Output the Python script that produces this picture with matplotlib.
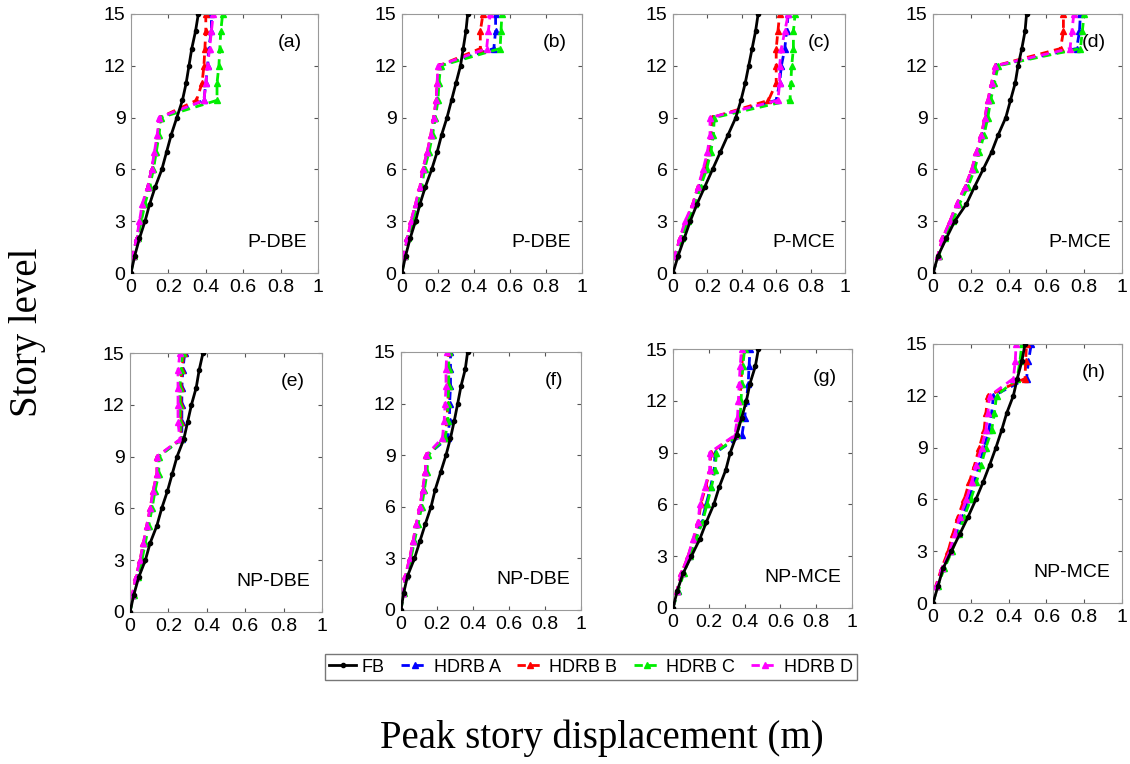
import numpy as np
import matplotlib.pyplot as plt

# Niveles de piso (0 a 15)
stories = np.arange(16)

# Desplazamientos pico (m) por panel: FB y HDRB A-D
panel_a = {
    "FB": [0, 0.02, 0.045, 0.075, 0.10, 0.13, 0.165, 0.19, 0.215, 0.245, 0.275, 0.295, 0.31, 0.325, 0.345, 0.36],
    "HDRB A": [0, 0.01, 0.03, 0.05, 0.065, 0.09, 0.11, 0.13, 0.145, 0.155, 0.39, 0.40, 0.41, 0.415, 0.43, 0.43],
    "HDRB B": [0, 0.01, 0.03, 0.05, 0.065, 0.09, 0.11, 0.13, 0.145, 0.155, 0.35, 0.38, 0.39, 0.395, 0.40, 0.40],
    "HDRB C": [0, 0.015, 0.035, 0.055, 0.075, 0.10, 0.12, 0.135, 0.15, 0.16, 0.46, 0.46, 0.47, 0.475, 0.48, 0.49],
    "HDRB D": [0, 0.01, 0.03, 0.045, 0.06, 0.09, 0.11, 0.125, 0.14, 0.15, 0.39, 0.40, 0.41, 0.42, 0.43, 0.44],
}
panel_b = {
    "FB": [0, 0.02, 0.045, 0.075, 0.10, 0.13, 0.165, 0.195, 0.22, 0.25, 0.275, 0.30, 0.325, 0.34, 0.355, 0.365],
    "HDRB A": [0, 0.01, 0.03, 0.055, 0.08, 0.105, 0.12, 0.145, 0.165, 0.18, 0.195, 0.20, 0.21, 0.51, 0.52, 0.52],
    "HDRB B": [0, 0.01, 0.03, 0.05, 0.075, 0.10, 0.115, 0.14, 0.16, 0.175, 0.19, 0.195, 0.205, 0.435, 0.435, 0.45],
    "HDRB C": [0, 0.015, 0.035, 0.06, 0.085, 0.11, 0.125, 0.15, 0.17, 0.185, 0.20, 0.205, 0.215, 0.545, 0.55, 0.555],
    "HDRB D": [0, 0.01, 0.03, 0.05, 0.075, 0.10, 0.115, 0.14, 0.16, 0.175, 0.19, 0.195, 0.20, 0.47, 0.48, 0.49],
}
panel_c = {
    "FB": [0, 0.03, 0.065, 0.10, 0.14, 0.185, 0.23, 0.275, 0.32, 0.365, 0.395, 0.42, 0.44, 0.46, 0.48, 0.495],
    "HDRB A": [0, 0.012, 0.045, 0.08, 0.12, 0.15, 0.185, 0.21, 0.225, 0.23, 0.60, 0.62, 0.63, 0.65, 0.66, 0.67],
    "HDRB B": [0, 0.01, 0.04, 0.075, 0.115, 0.145, 0.18, 0.205, 0.22, 0.225, 0.555, 0.60, 0.60, 0.60, 0.61, 0.62],
    "HDRB C": [0, 0.015, 0.05, 0.085, 0.13, 0.16, 0.195, 0.22, 0.235, 0.24, 0.68, 0.685, 0.69, 0.70, 0.70, 0.71],
    "HDRB D": [0, 0.01, 0.04, 0.07, 0.115, 0.145, 0.175, 0.20, 0.215, 0.215, 0.61, 0.62, 0.62, 0.63, 0.65, 0.67],
}
panel_d = {
    "FB": [0, 0.027, 0.07, 0.115, 0.177, 0.22, 0.265, 0.31, 0.345, 0.385, 0.41, 0.435, 0.45, 0.47, 0.487, 0.495],
    "HDRB A": [0, 0.027, 0.055, 0.095, 0.13, 0.175, 0.21, 0.235, 0.26, 0.28, 0.295, 0.315, 0.335, 0.76, 0.775, 0.78],
    "HDRB B": [0, 0.025, 0.05, 0.09, 0.125, 0.17, 0.205, 0.23, 0.255, 0.275, 0.29, 0.31, 0.33, 0.675, 0.69, 0.69],
    "HDRB C": [0, 0.03, 0.065, 0.105, 0.14, 0.185, 0.22, 0.245, 0.27, 0.29, 0.305, 0.325, 0.345, 0.78, 0.79, 0.80],
    "HDRB D": [0, 0.025, 0.05, 0.09, 0.125, 0.17, 0.205, 0.23, 0.255, 0.275, 0.29, 0.31, 0.33, 0.725, 0.735, 0.745],
}
panel_e = {
    "FB": [0, 0.02, 0.045, 0.08, 0.105, 0.14, 0.165, 0.195, 0.22, 0.245, 0.28, 0.30, 0.32, 0.345, 0.36, 0.38],
    "HDRB A": [0, 0.015, 0.035, 0.057, 0.075, 0.092, 0.11, 0.125, 0.145, 0.145, 0.27, 0.27, 0.27, 0.27, 0.275, 0.285],
    "HDRB B": [0, 0.012, 0.03, 0.052, 0.07, 0.087, 0.105, 0.12, 0.14, 0.14, 0.265, 0.265, 0.265, 0.265, 0.27, 0.28],
    "HDRB C": [0, 0.02, 0.04, 0.062, 0.08, 0.097, 0.115, 0.13, 0.15, 0.15, 0.265, 0.26, 0.26, 0.26, 0.265, 0.275],
    "HDRB D": [0, 0.012, 0.03, 0.052, 0.07, 0.087, 0.105, 0.12, 0.14, 0.14, 0.26, 0.25, 0.25, 0.25, 0.25, 0.26],
}
panel_f = {
    "FB": [0, 0.015, 0.037, 0.075, 0.105, 0.135, 0.167, 0.19, 0.22, 0.25, 0.275, 0.296, 0.315, 0.333, 0.357, 0.37],
    "HDRB A": [0, 0.012, 0.027, 0.052, 0.072, 0.09, 0.11, 0.125, 0.14, 0.145, 0.26, 0.27, 0.27, 0.275, 0.275, 0.275],
    "HDRB B": [0, 0.01, 0.024, 0.048, 0.067, 0.085, 0.105, 0.12, 0.135, 0.14, 0.245, 0.255, 0.26, 0.265, 0.265, 0.265],
    "HDRB C": [0, 0.015, 0.03, 0.055, 0.075, 0.095, 0.115, 0.13, 0.145, 0.15, 0.245, 0.26, 0.26, 0.265, 0.265, 0.265],
    "HDRB D": [0, 0.01, 0.024, 0.048, 0.067, 0.085, 0.105, 0.12, 0.135, 0.14, 0.23, 0.24, 0.245, 0.25, 0.25, 0.255],
}
panel_g = {
    "FB": [0, 0.024, 0.056, 0.103, 0.15, 0.187, 0.228, 0.258, 0.295, 0.32, 0.355, 0.383, 0.41, 0.43, 0.46, 0.477],
    "HDRB A": [0, 0.026, 0.055, 0.09, 0.125, 0.16, 0.185, 0.21, 0.23, 0.235, 0.385, 0.40, 0.41, 0.42, 0.425, 0.43],
    "HDRB B": [0, 0.022, 0.047, 0.084, 0.115, 0.142, 0.155, 0.182, 0.208, 0.21, 0.35, 0.37, 0.375, 0.38, 0.385, 0.39],
    "HDRB C": [0, 0.03, 0.06, 0.095, 0.13, 0.165, 0.19, 0.215, 0.235, 0.243, 0.36, 0.375, 0.38, 0.385, 0.39, 0.40],
    "HDRB D": [0, 0.022, 0.047, 0.084, 0.112, 0.14, 0.15, 0.178, 0.205, 0.205, 0.345, 0.36, 0.365, 0.37, 0.375, 0.383],
}
panel_h = {
    "FB": [0, 0.027, 0.053, 0.097, 0.142, 0.186, 0.227, 0.265, 0.30, 0.333, 0.363, 0.39, 0.425, 0.446, 0.47, 0.487],
    "HDRB A": [0, 0.02, 0.055, 0.093, 0.125, 0.155, 0.19, 0.218, 0.245, 0.27, 0.295, 0.31, 0.32, 0.495, 0.505, 0.52],
    "HDRB B": [0, 0.015, 0.045, 0.08, 0.105, 0.132, 0.165, 0.192, 0.22, 0.245, 0.27, 0.28, 0.29, 0.487, 0.49, 0.495],
    "HDRB C": [0, 0.025, 0.06, 0.10, 0.135, 0.165, 0.20, 0.23, 0.255, 0.28, 0.31, 0.325, 0.336, 0.445, 0.46, 0.47],
    "HDRB D": [0, 0.018, 0.05, 0.088, 0.115, 0.142, 0.177, 0.204, 0.23, 0.257, 0.28, 0.29, 0.30, 0.425, 0.435, 0.44],
}

panels = [panel_a, panel_b, panel_c, panel_d, panel_e, panel_f, panel_g, panel_h]
panel_tags = ["(a)", "(b)", "(c)", "(d)", "(e)", "(f)", "(g)", "(h)"]
cases = ["P-DBE", "P-DBE", "P-MCE", "P-MCE", "NP-DBE", "NP-DBE", "NP-MCE", "NP-MCE"]
series = ["FB", "HDRB A", "HDRB B", "HDRB C", "HDRB D"]
colors = {"FB": "black", "HDRB A": "#0000ff", "HDRB B": "#ff0000",
          "HDRB C": "#00ee00", "HDRB D": "#ff00ff"}

# Posición de cada eje en píxeles: izquierda, arriba, derecha, abajo
W, H = 1130, 764
boxes = [(131, 14, 318, 273), (402, 14, 582, 273), (673, 14, 845, 273), (933, 14, 1122, 273),
         (130, 353, 322, 612), (401, 352, 581, 610), (673, 349, 852, 608), (933, 344, 1122, 603)]

plt.rcParams['font.family'] = ['Liberation Sans', 'DejaVu Sans']
fig = plt.figure(figsize=(W / 100, H / 100), dpi=100)

handles = []
for data, tag, case, (l, t, r, b) in zip(panels, panel_tags, cases, boxes):
    ax = fig.add_axes([l / W, 1 - b / H, (r - l) / W, (b - t) / H])
    hs = []
    for name in series:
        if name == "FB":
            h, = ax.plot(data[name], stories, color='black', lw=2, marker='.', ms=6, label=name, zorder=3)
        else:
            h, = ax.plot(data[name], stories, color=colors[name], lw=2, ls=(0, (3, 2)),
                         marker='^', ms=5, label=name)
        hs.append(h)
    handles = hs
    ax.set_xlim(0, 1)
    ax.set_ylim(0, 15)
    ax.set_xticks([0, 0.2, 0.4, 0.6, 0.8, 1])
    ax.set_xticklabels(["0", "0.2", "0.4", "0.6", "0.8", "1"])
    ax.set_yticks([0, 3, 6, 9, 12, 15])
    ax.tick_params(direction='in', top=True, right=True, labelsize=14, length=3,
                   color='#555555', pad=4)
    for s in ax.spines.values():
        s.set_color('#999999')
    ax.text(0.85, 0.89, tag, transform=ax.transAxes, fontsize=14, ha='center', va='center')
    ax.text(0.94, 0.117, case, transform=ax.transAxes, fontsize=14, ha='right', va='center')

fig.legend(handles=handles, labels=series, loc='center', bbox_to_anchor=(591 / W, 1 - 667 / H),
           ncol=5, fontsize=13, frameon=True, fancybox=False, edgecolor='#555555',
           handlelength=1.5, handletextpad=0.3, columnspacing=0.9, borderpad=0.25,
           numpoints=1)

fig.text(28 / W, 1 - 332 / H, "Story level", rotation=90, ha='center', va='center',
         fontsize=28, family='Liberation Serif')
fig.text(602 / W, 1 - 738 / H, "Peak story displacement (m)", ha='center', va='center',
         fontsize=28, family='Liberation Serif')

plt.savefig('out.png', dpi=100)
